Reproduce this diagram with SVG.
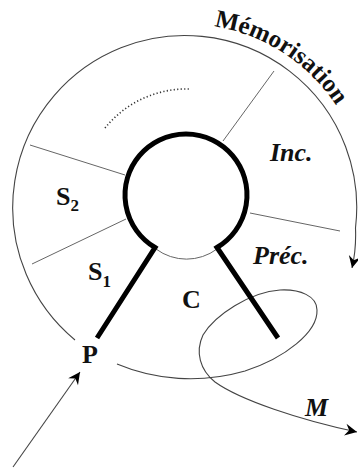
<svg xmlns="http://www.w3.org/2000/svg" width="358" height="468" viewBox="0 0 358 468">
<style>
.thin{fill:none;stroke:#666;stroke-width:1}
.flow{fill:none;stroke:#444;stroke-width:1.1}
.thick{fill:none;stroke:#000;stroke-width:5;stroke-linejoin:miter}
.lbl{font-family:"Liberation Serif","Times New Roman",serif;font-weight:bold;font-size:26px;fill:#111}
.it{font-style:italic}
.memo{font-family:"Liberation Serif","Times New Roman",serif;font-weight:bold;font-size:25px;fill:#111}
</style>
<defs>
<marker id="ah" viewBox="-13 -7 14 14" refX="0" refY="0" markerWidth="14" markerHeight="14" markerUnits="userSpaceOnUse" orient="auto">
<path d="M0,0 L-12,-6 L-8,0 L-12,6 z" fill="#000"/>
</marker>
<path id="memo" d="M185,24 A181,181 0 0 1 366,205"/>
</defs>
<rect width="358" height="468" fill="#fff"/>
<g id="connectors">
<path class="flow" d="M75,340 A172,172 0 1 1 355.5,228 C356,240 355,255 352,268" marker-end="url(#ah)"/>
<path class="flow" d="M117,364 C155,380 200,384 245,371 C285,358 318,332 317,310 C317,296 300,289 280,290 C250,292 215,315 203,335 C195,352 200,370 215,382 C240,400 300,420 357,432" marker-end="url(#ah)"/>
<path class="flow" d="M13,467 L80,372" marker-end="url(#ah)"/>
</g>
<g id="sectors">
<line class="thin" x1="223" y1="141" x2="274" y2="71"/>
<line class="thin" x1="250" y1="213" x2="340" y2="231"/>
<line class="thin" x1="30" y1="145" x2="125" y2="175"/>
<line class="thin" x1="32" y1="264" x2="126" y2="219"/>
<path class="thin" d="M156,249 A51,51 0 0 0 217,249"/>
<path d="M105,128 A105,105 0 0 1 190,89" fill="none" stroke="#333" stroke-width="1.6" stroke-dasharray="1.2 2.3"/>
</g>
<g id="core">
<path class="thick" d="M97,338 L155,247.5 A61,61 0 1 1 217,247.5 L278,338"/>
</g>
<g id="labels">
<text class="lbl" x="56" y="205">S<tspan font-size="17" dy="6">2</tspan></text>
<text class="lbl" x="88" y="280">S<tspan font-size="17" dy="7">1</tspan></text>
<text class="lbl" x="182" y="308">C</text>
<text class="lbl" x="82" y="363">P</text>
<text class="lbl it" x="270" y="161">Inc.</text>
<text class="lbl it" x="253" y="264">Préc.</text>
<text class="lbl it" x="305" y="416">M</text>
<text class="memo"><textPath href="#memo" startOffset="29">Mémorisation</textPath></text>
</g>
</svg>
